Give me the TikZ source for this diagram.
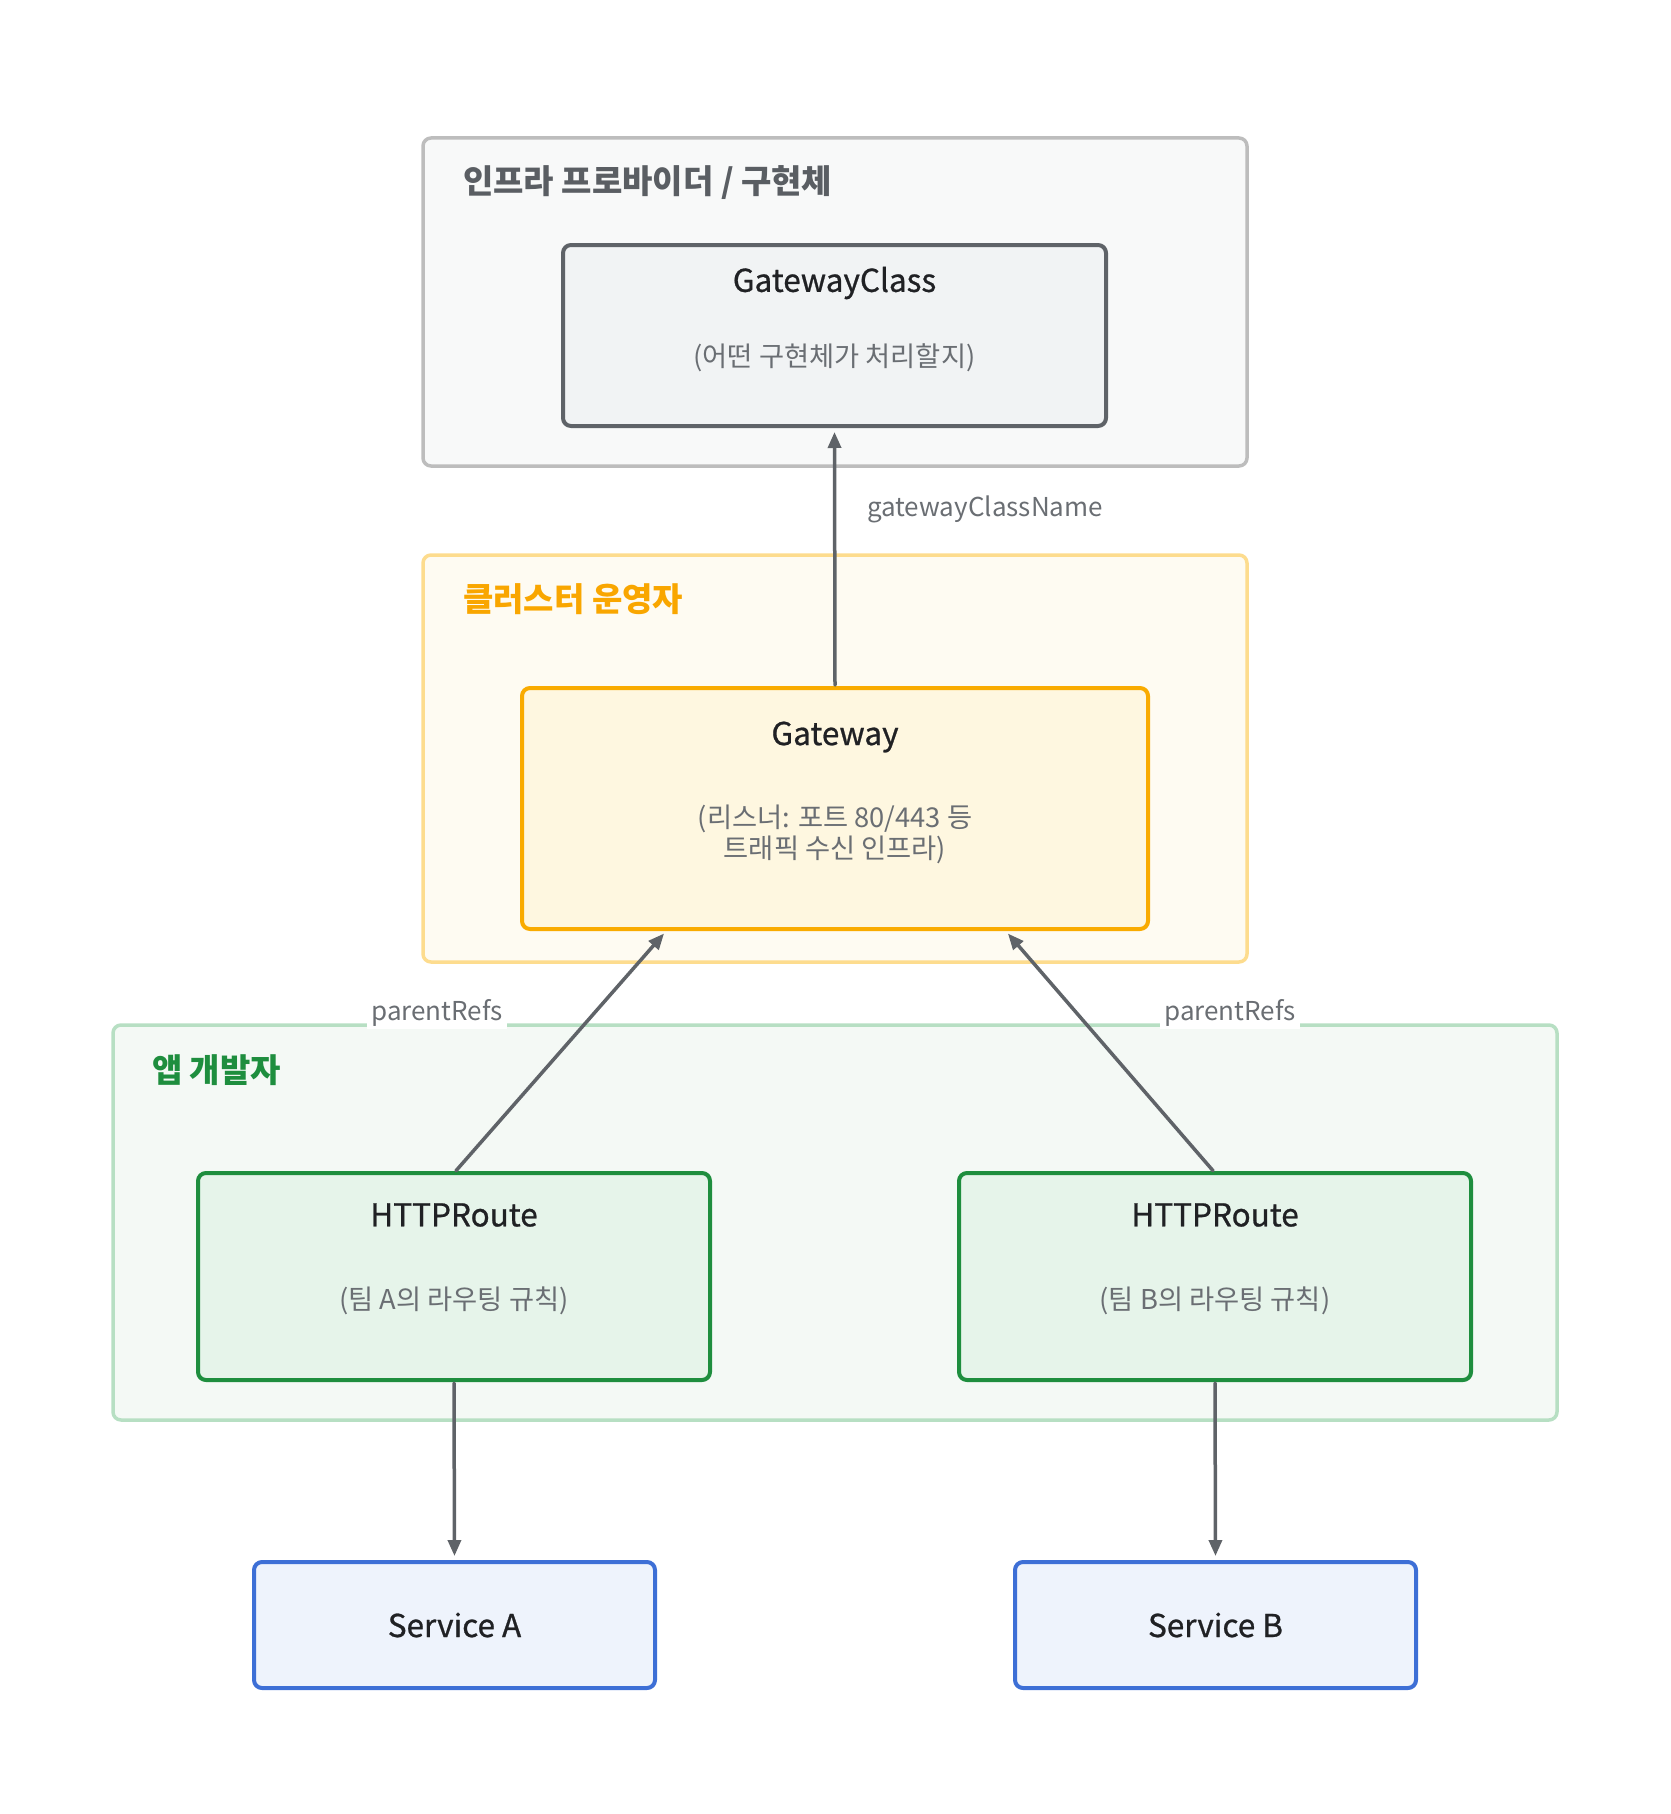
\documentclass[tikz,border=0pt]{standalone}
\usepackage{fontspec}
\setmainfont{Noto Sans CJK KR}
\newfontfamily\titlefont[FakeBold=0.8]{Noto Sans CJK KR}
\usepackage{tikz}
\usetikzlibrary{arrows.meta}
\definecolor{infrafill}{HTML}{F8F9F9}
\definecolor{infraline}{HTML}{BDBDBD}
\definecolor{infratext}{HTML}{5A5E63}
\definecolor{gcfill}{HTML}{F1F3F4}
\definecolor{gcline}{HTML}{5F6368}
\definecolor{clufill}{HTML}{FEFBF2}
\definecolor{cluline}{HTML}{FDDC8E}
\definecolor{clutext}{HTML}{F9A600}
\definecolor{gwfill}{HTML}{FEF7E0}
\definecolor{gwline}{HTML}{F9AB00}
\definecolor{appfill}{HTML}{F4F9F5}
\definecolor{appline}{HTML}{B7DFC3}
\definecolor{apptext}{HTML}{1E8E3E}
\definecolor{rtfill}{HTML}{E6F4EA}
\definecolor{rtline}{HTML}{1E8E3E}
\definecolor{svfill}{HTML}{EEF3FC}
\definecolor{svline}{HTML}{3D6FD6}
\definecolor{darktext}{HTML}{202124}
\definecolor{subtext}{HTML}{6A6E73}
\definecolor{connline}{HTML}{5F6368}
\tikzstyle{every node}=[inner sep=0pt,outer sep=0pt]
\tikzstyle{groupbox}=[draw,rounded corners=8pt,line width=3.5pt]
\tikzstyle{objbox}=[draw,rounded corners=8pt,line width=4pt]
\tikzstyle{grouptitle}=[anchor=west,font=\fontsize{33}{38}\selectfont\bfseries]
\tikzstyle{objtitle}=[color=darktext,font=\titlefont\fontsize{31.5}{38}\selectfont]
\tikzstyle{objsub}=[color=subtext,align=center,font=\fontsize{27.3}{31}\selectfont]
\tikzstyle{conn}=[line width=3.5pt,color=connline,shorten <=3pt,shorten >=6pt]
\tikzstyle{connlabel}=[color=subtext,font=\fontsize{26}{31}\selectfont]

\begin{document}
\begin{tikzpicture}[line cap=round,line join=round,>={Triangle[length=16pt,width=13pt]},x=1pt,y=-1pt]
\useasboundingbox (0,0) rectangle (1670,1814);
% groups
\node[groupbox,draw=infraline,fill=infrafill,minimum width=824,minimum height=328] (infra) at (835,302) {};
\node[grouptitle,color=infratext] (infraT) at (463,183) {인프라 프로바이더 / 구현체};
\node[groupbox,draw=cluline,fill=clufill,minimum width=824,minimum height=407] (cluster) at (835,758.5) {};
\node[grouptitle,color=clutext] (clusterT) at (463,599) {클러스터 운영자};
\node[groupbox,draw=appline,fill=appfill,minimum width=1444,minimum height=395] (app) at (835,1222.5) {};
\node[grouptitle,color=apptext] (appT) at (152,1070) {앱 개발자};
% objects
\node[objbox,draw=gcline,fill=gcfill,minimum width=543,minimum height=181] (gc) at (834.5,335.5) {};
\node[objtitle] (gcT) at (834.5,283) {GatewayClass};
\node[objsub] (gcS) at (834.5,358) {(어떤 구현체가 처리할지)};
\node[objbox,draw=gwline,fill=gwfill,minimum width=626,minimum height=241] (gw) at (835,808.5) {};
\node[objtitle] (gwT) at (835,737) {Gateway};
\node[objsub] (gwS) at (835,834.5) {(리스너: 포트 80/443 등\\트래픽 수신 인프라)};
\node[objbox,draw=rtline,fill=rtfill,minimum width=512,minimum height=207] (ra) at (454,1276.5) {};
\node[objtitle] (raT) at (454,1215) {HTTPRoute};
\node[objsub] (raS) at (454,1301) {(팀 A의 라우팅 규칙)};
\node[objbox,draw=rtline,fill=rtfill,minimum width=512,minimum height=207] (rb) at (1215,1276.5) {};
\node[objtitle] (rbT) at (1215,1215) {HTTPRoute};
\node[objsub] (rbS) at (1215,1301) {(팀 B의 라우팅 규칙)};
\node[objbox,draw=svline,fill=svfill,minimum width=401,minimum height=126] (sa) at (454.5,1625) {};
\node[objtitle] (saT) at (454.5,1625) {Service A};
\node[objbox,draw=svline,fill=svfill,minimum width=401,minimum height=126] (sb) at (1215.5,1625) {};
\node[objtitle] (sbT) at (1215.5,1625) {Service B};
% connectors
\draw[->,conn] (gw.north) -- (gc.south);
\draw[->,conn] (ra.north) -- ([xshift=-167pt]gw.south);
\draw[->,conn] (rb.north) -- ([xshift=169pt]gw.south);
\draw[->,conn] (ra.south) -- (sa.north);
\draw[->,conn] (rb.south) -- (sb.north);
\node[connlabel,anchor=west] (lbgc) at (867,509) {gatewayClassName};
\node[connlabel,fill=white,inner xsep=4pt,inner ysep=2pt] (lbra) at (437,1013) {parentRefs};
\node[connlabel,fill=white,inner xsep=4pt,inner ysep=2pt] (lbrb) at (1230,1013) {parentRefs};
\end{tikzpicture}
\end{document}
